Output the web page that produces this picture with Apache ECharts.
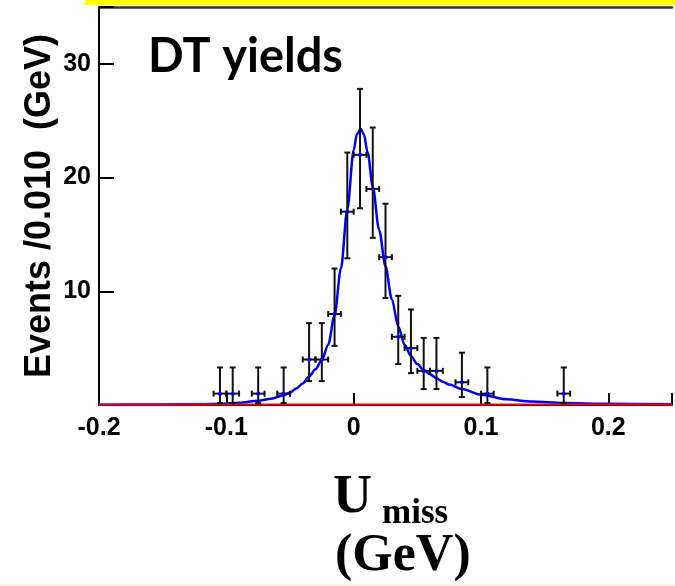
<!DOCTYPE html>
<html>
<head>
<meta charset="utf-8">
<script src="https://cdn.jsdelivr.net/npm/echarts@6/dist/echarts.min.js"></script>
<style>
html,body{margin:0;padding:0;background:#fff;}
#chart{width:675px;height:586px;}
</style>
</head>
<body>
<div id="chart"></div>
<script>
// ---- data ----
const binCenters = [-0.105, -0.095, -0.075, -0.055, -0.035, -0.025, -0.015, -0.005, 0.005, 0.015, 0.025, 0.035, 0.045, 0.055, 0.065, 0.085, 0.105, 0.165];
const counts     = [1, 1, 1, 1, 4, 4, 8, 17, 22, 19, 13, 6, 5, 3, 3, 2, 1, 1];
const errLow     = [0.17, 0.17, 0.17, 0.17, 2.1, 2.1, 5.2, 12.9, 17.3, 14.7, 9.4, 3.6, 2.8, 1.4, 1.4, 0.7, 0.17, 0.17];
const errHigh    = [3.3, 3.3, 3.3, 3.3, 7.2, 7.2, 12.0, 22.2, 27.8, 24.4, 17.7, 9.6, 8.4, 5.9, 5.9, 4.6, 3.3, 3.3];
const binHalfWidth = 0.005;

const fitX = [-0.2, -0.15, -0.12, -0.105, -0.09, -0.075, -0.065, -0.055, -0.05, -0.045, -0.04, -0.035, -0.03, -0.025, -0.02, -0.015, -0.01, -0.005, 0, 0.0025, 0.0055, 0.008, 0.011, 0.015, 0.02, 0.025, 0.03, 0.035, 0.04, 0.045, 0.05, 0.055, 0.06, 0.065, 0.07, 0.075, 0.085, 0.1, 0.12, 0.14, 0.165, 0.2, 0.25];
const fitY = [0.02, 0.04, 0.07, 0.11, 0.2, 0.37, 0.55, 0.85, 1.1, 1.45, 1.9, 2.5, 3.15, 3.95, 5.3, 7.9, 12.0, 17.2, 22.4, 23.8, 24.3, 23.8, 22.2, 19.2, 15.4, 12.2, 9.3, 6.9, 5.3, 4.3, 3.6, 3.1, 2.7, 2.35, 2.05, 1.8, 1.4, 0.9, 0.5, 0.3, 0.17, 0.1, 0.07];

const bkgX = [-0.2, 0.25];
const bkgY = [0.04, 0.04];

const xTickValues = [-0.2, -0.1, 0, 0.1, 0.2];
const xTickLabels = ['-0.2', '-0.1', '0', '0.1', '0.2'];
const yTickValues = [10, 20, 30];
const yTickLabels = ['10', '20', '30'];

const yTitle = 'Events /0.010  (GeV)';
const panelTitle = 'DT yields';

// ---- build ----
const chart = echarts.init(document.getElementById('chart'), null, {renderer: 'canvas'});

const pointData = binCenters.map((x, i) => [x, counts[i], errLow[i], errHigh[i]]);
const fitData = fitX.map((x, i) => [x, fitY[i]]);
const bkgData = bkgX.map((x, i) => [x, bkgY[i]]);

function xLabel(v) {
  for (let i = 0; i < xTickValues.length; i++) {
    if (Math.abs(v - xTickValues[i]) < 1e-6) return xTickLabels[i];
  }
  return '';
}
function yLabel(v) {
  for (let i = 0; i < yTickValues.length; i++) {
    if (Math.abs(v - yTickValues[i]) < 1e-6) return yTickLabels[i];
  }
  return '';
}

function renderErr(params, api) {
  const x = api.value(0), y = api.value(1), lo = api.value(2), hi = api.value(3);
  const c = api.coord([x, y]);
  const l = api.coord([x - binHalfWidth, y]);
  const r = api.coord([x + binHalfWidth, y]);
  const pLo = api.coord([x, lo]);
  const pHi = api.coord([x, hi]);
  const st = {stroke: '#111', lineWidth: 2};
  const cap = 3;
  return {
    type: 'group',
    children: [
      {type: 'line', shape: {x1: c[0], y1: pLo[1], x2: c[0], y2: pHi[1]}, style: st},
      {type: 'line', shape: {x1: c[0] - cap, y1: pLo[1], x2: c[0] + cap, y2: pLo[1]}, style: st},
      {type: 'line', shape: {x1: c[0] - cap, y1: pHi[1], x2: c[0] + cap, y2: pHi[1]}, style: st},
      {type: 'line', shape: {x1: l[0], y1: c[1], x2: r[0], y2: c[1]}, style: st},
      {type: 'line', shape: {x1: l[0], y1: c[1] - cap, x2: l[0], y2: c[1] + cap}, style: st},
      {type: 'line', shape: {x1: r[0], y1: c[1] - cap, x2: r[0], y2: c[1] + cap}, style: st},
      {type: 'circle', shape: {cx: c[0], cy: c[1], r: 2}, style: {fill: '#0000ff'}}
    ]
  };
}

const option = {
  animation: false,
  backgroundColor: '#ffffff',
  grid: {left: 99, right: 0, top: 7, bottom: 181, containLabel: false},
  xAxis: [{
    type: 'value', min: -0.2, max: 0.25, interval: 0.1, position: 'bottom',
    axisLine: {show: true, onZero: false, lineStyle: {color: '#000', width: 2}},
    axisTick: {show: true, inside: true, length: 12, lineStyle: {color: '#000', width: 2}},
    axisLabel: {show: true, margin: 11, formatter: xLabel, color: '#000',
      fontFamily: 'Liberation Sans', fontWeight: 'bold', fontSize: 25},
    splitLine: {show: false}
  }, {
    type: 'value', min: -0.2, max: 0.25, position: 'top',
    axisLine: {show: true, onZero: false, lineStyle: {color: '#333', width: 2.5}},
    axisTick: {show: false}, axisLabel: {show: false}, splitLine: {show: false}
  }],
  yAxis: {
    type: 'value', min: 0, max: 35, interval: 10,
    axisLine: {show: true, onZero: false, lineStyle: {color: '#000', width: 2}},
    axisTick: {show: true, inside: true, length: 15, lineStyle: {color: '#000', width: 2}},
    axisLabel: {show: true, margin: 8, formatter: yLabel, color: '#000',
      fontFamily: 'Liberation Sans', fontWeight: 'bold', fontSize: 25},
    splitLine: {show: false},
    name: yTitle, nameLocation: 'middle', nameRotate: 90, nameGap: 41, nameMoveOverlap: false,
    nameTextStyle: {color: '#000', fontFamily: 'Liberation Sans', fontWeight: 'bold', fontSize: 36}
  },
  series: [
    {type: 'line', data: fitData, smooth: 0.3, smoothMonotone: 'x', showSymbol: false,
      lineStyle: {color: '#0000ff', width: 2.5}, z: 3},
    {type: 'line', data: bkgData, showSymbol: false, lineStyle: {color: '#ff0000', width: 2}, z: 3.5},
    {type: 'custom', data: pointData, renderItem: renderErr, z: 4}
  ],
  graphic: [
    {type: 'rect', left: 85, top: 0, shape: {width: 590, height: 5}, style: {fill: '#ffff00'}},
    {type: 'rect', left: 0, top: 584, shape: {width: 675, height: 2}, style: {fill: '#fbf2df'}},
    {type: 'text', left: 148, top: 33, style: {text: panelTitle, fill: '#000',
      font: 'bold 47px Lato'}},
    {type: 'text', left: 333, top: 471, style: {text: 'U', fill: '#000',
      font: 'bold 54px "Liberation Serif"'}},
    {type: 'text', left: 382, top: 496, style: {text: 'miss', fill: '#000',
      font: 'bold 35px "Liberation Serif"'}},
    {type: 'text', left: 335, top: 531, style: {text: '(GeV)', fill: '#000',
      font: 'bold 52px "Liberation Serif"'}}
  ]
};
chart.setOption(option);
</script>
</body>
</html>
